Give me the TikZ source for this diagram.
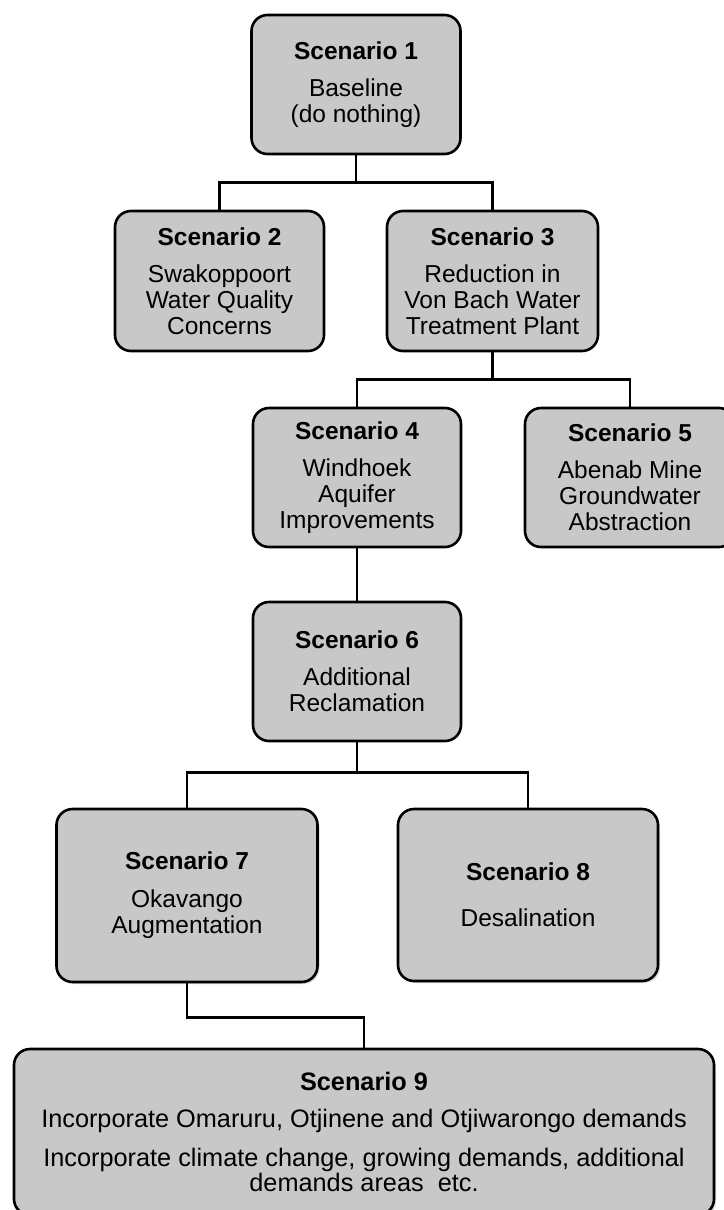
\documentclass[tikz,border=0pt]{standalone}
\usepackage{fontspec}
\setmainfont{Liberation Sans}
\usetikzlibrary{shadows}
\definecolor{boxgray}{RGB}{200,200,200}
\tikzset{
  scen/.style={draw=black, fill=boxgray, line width=2.6pt, rounded corners=16pt,
    align=center, inner sep=0pt, font=\fontsize{24.5}{26}\selectfont},
  shade/.style={drop shadow={shadow xshift=2pt, shadow yshift=-2pt, opacity=0.3}},
  link/.style={line width=2.6pt, black}
}

\begin{document}
\begin{tikzpicture}[x=1pt, y=-1pt]
    \useasboundingbox (0,0) rectangle (723,1210);
    % scenario boxes
    \node[scen, minimum width=209pt, minimum height=139pt] (s1) at (356,84.5)
        {\textbf{Scenario 1}\\[11pt]Baseline\\(do nothing)};
    \node[scen, minimum width=209pt, minimum height=140pt] (s2) at (219.5,281)
        {\textbf{Scenario 2}\\[11pt]Swakoppoort\\Water Quality\\Concerns};
    \node[scen, minimum width=211pt, minimum height=140pt] (s3) at (492.5,281)
        {\textbf{Scenario 3}\\[11pt]Reduction in\\Von Bach Water\\Treatment Plant};
    \node[scen, minimum width=208pt, minimum height=139pt] (s4) at (357,477.5)
        {\textbf{Scenario 4}\\[11pt]Windhoek\\Aquifer\\Improvements};
    \node[scen, minimum width=210pt, minimum height=139pt] (s5) at (630,477.5)
        {\textbf{Scenario 5}\\[11pt]Abenab Mine\\Groundwater\\Abstraction};
    \node[scen, minimum width=208pt, minimum height=139pt] (s6) at (357,671.5)
        {\textbf{Scenario 6}\\[11pt]Additional\\Reclamation};
    \node[scen, shade, minimum width=261pt, minimum height=173pt] (s7) at (187,895.5)
        {\textbf{Scenario 7}\\[12pt]Okavango\\Augmentation};
    \node[scen, shade, minimum width=260pt, minimum height=172pt] (s8) at (528,895)
        {\textbf{Scenario 8}\\[20pt]Desalination};
    \node[scen, shade, font=\fontsize{25.3}{26}\selectfont, minimum width=700pt, minimum height=166pt] (s9) at (364,1132)
        {\textbf{Scenario 9}\\[11pt]Incorporate Omaruru, Otjinene and Otjiwarongo demands\\[13pt]
         Incorporate climate change, growing demands, additional\\[-1pt]demands areas\ \ etc.};
    % connectors
    \draw[link] (s1.south) -- ++(0,27) coordinate (b1);
    \draw[link] (s2.north) |- (b1) -| (s3.north);
    \draw[link] (s3.south) -- ++(0,27) coordinate (b2);
    \draw[link] (s4.north) |- (b2) -| (s5.north);
    \draw[link] (s4.south) -- (s6.north);
    \draw[link] (s6.south) -- ++(0,30) coordinate (b3);
    \draw[link] (s7.north) |- (b3) -| (s8.north);
    \draw[link] (s7.south) -- ++(0,34) -| (s9.north);
\end{tikzpicture}
\end{document}
